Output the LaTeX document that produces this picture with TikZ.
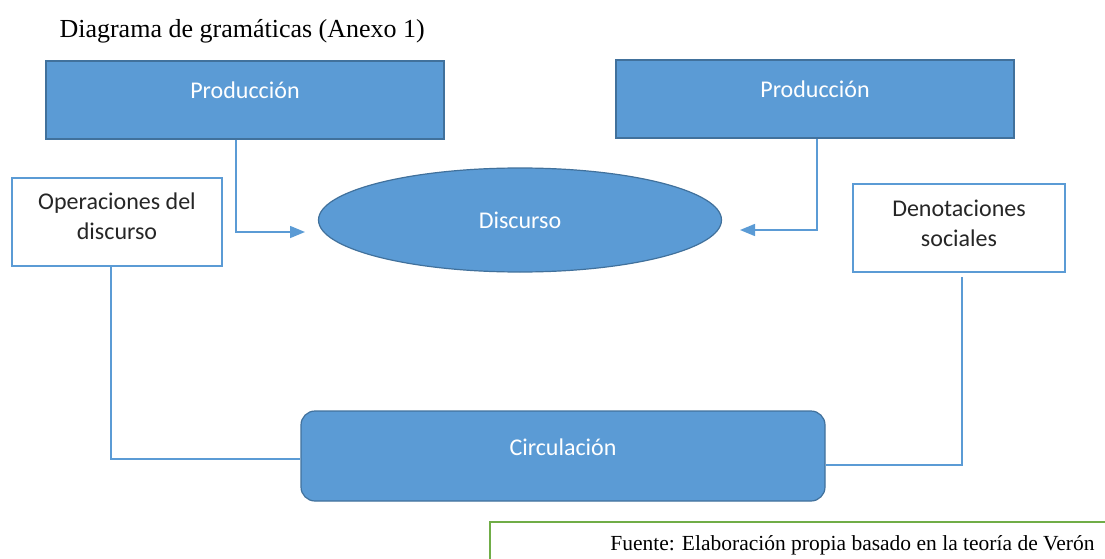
\documentclass[tikz,border=0pt]{standalone}
\usepackage{fontspec}
\setmainfont{Liberation Serif}
\setsansfont{Carlito}
\usetikzlibrary{shapes.geometric,arrows.meta}
\definecolor{boxblue}{HTML}{5B9BD5}
\definecolor{edgeblue}{HTML}{41719C}
\definecolor{srcgreen}{HTML}{70AD47}
\definecolor{boxtext}{HTML}{262626}

\begin{document}
\begin{tikzpicture}[x=1pt, y=-1pt,
    bluebox/.style={draw=edgeblue, line width=1.2pt, fill=boxblue, text=white,
      font=\sffamily\fontsize{24}{28}\selectfont},
    whitebox/.style={draw=boxblue, line width=1.5pt, fill=white, text=boxtext,
      align=center, font=\sffamily\fontsize{24}{30}\selectfont},
    link/.style={draw=boxblue, line width=1.5pt},
    tip/.style={-{Triangle[length=15pt, width=12pt]}}]
    \clip (0,0) rectangle (1105,559);
    \node[anchor=west, font=\fontsize{26}{30}\selectfont] (title) at (56,31) {Diagrama de gramáticas (Anexo 1)};
    \node[bluebox, minimum width=398pt, minimum height=78pt, text height=15pt, text depth=17pt] (prodL) at (245,100) {Producción};
    \node[bluebox, minimum width=398pt, minimum height=78pt, text height=15pt, text depth=17pt] (prodR) at (815,99) {Producción};
    \node[bluebox, ellipse, inner sep=0pt, minimum width=403pt, minimum height=104pt] (disc) at (520,220) {Discurso};
    \node[whitebox, minimum width=210pt, minimum height=88pt, text depth=12pt] (oper) at (117,222) {Operaciones del\\discurso};
    \node[whitebox, minimum width=212pt, minimum height=88pt, text depth=9pt] (denot) at (959,228) {Denotaciones\\sociales};
    \node[bluebox, rounded corners=14pt, minimum width=524pt, minimum height=90pt, text height=15pt, text depth=17pt] (circ) at (563,456) {Circulación};
    % arrows into the discourse
    \coordinate (discW) at (305,232);
    \coordinate (discE) at (740,230);
    \draw[link, tip] ([xshift=-9pt]prodL.south) |- (discW);
    \draw[link, tip] ([xshift=2pt]prodR.south) |- (discE);
    % lines down to circulation
    \draw[link] ([xshift=-6pt]oper.south) |- ([yshift=-3pt]circ.west);
    \draw[link] ([xshift=3pt, yshift=-4pt]denot.south) |- ([yshift=-9pt]circ.east);
    % source
    \draw[srcgreen, line width=1.2pt] (490,522) rectangle (1130,590);
    \node[anchor=east, font=\fontsize{21.5}{24}\selectfont] (src) at (1098,545) {Fuente: Elaboración propia basado en la teoría de Verón};
\end{tikzpicture}
\end{document}
